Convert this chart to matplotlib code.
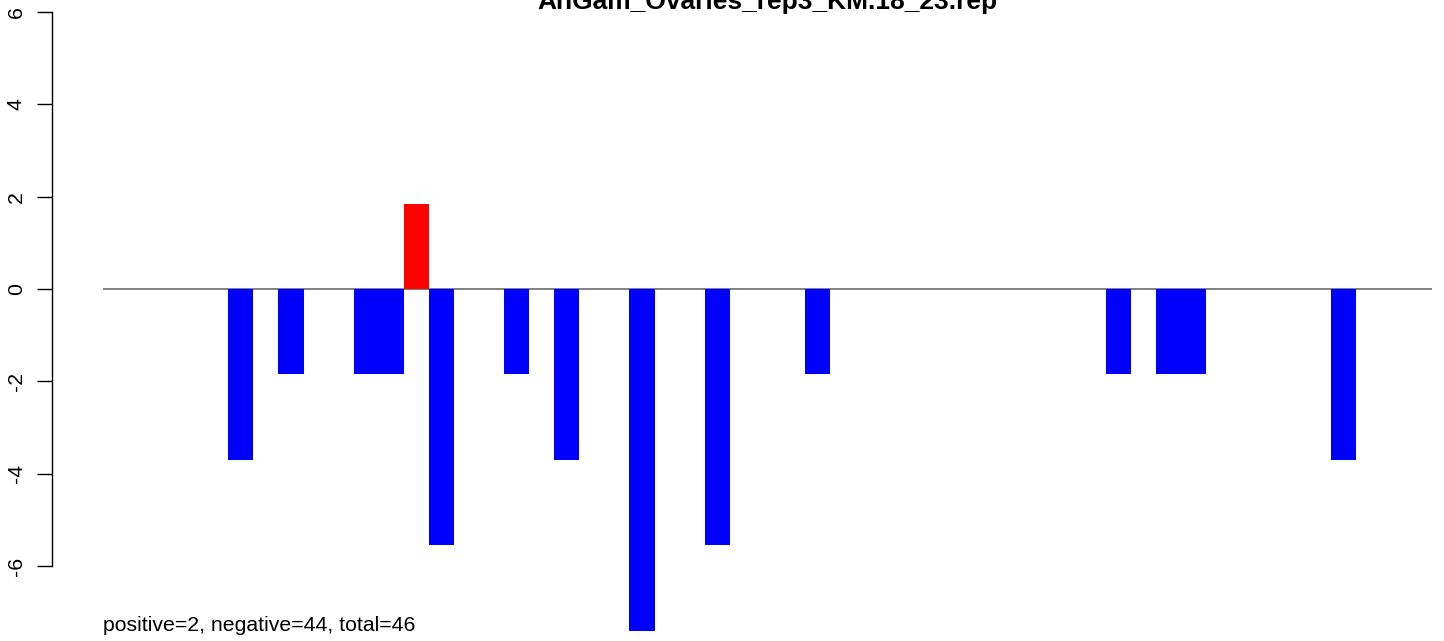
import matplotlib
matplotlib.use("Agg")
import matplotlib.pyplot as plt

plt.rcParams['font.family'] = ['Liberation Sans', 'DejaVu Sans']

title = "AnGam_Ovaries_rep3_KM.18_23.rep"
n_slots = 53
# slot index of each bar and its value
positions = [5, 7, 10, 11, 12, 13, 16, 18, 21, 24, 28, 40, 42, 43, 49]
values = [-3.7, -1.85, -1.85, -1.85, 1.85, -5.55, -1.85, -3.7, -7.4, -5.55,
          -1.85, -1.85, -1.85, -1.85, -3.7]
yticks = [-6, -4, -2, 0, 2, 4, 6]
summary = "positive=2, negative=44, total=46"

W, H = 1444, 641
fig = plt.figure(figsize=(W / 100, H / 100), dpi=100)
ax = fig.add_axes([0, 0, 1, 1])

# pixel mapping: x_px = 103 + 25.07 * x ; y_px(top) = 289 - 46.17 * y
ax.set_xlim(-103 / 25.07, (W - 103) / 25.07)
ax.set_ylim((289 - H) / 46.17, 289 / 46.17)

ax.hlines(0, 0, n_slots, color='#808080', lw=1.4, zorder=1)
colors = ['red' if v > 0 else 'blue' for v in values]
ax.bar(positions, values, width=1.0, align='edge', color=colors, zorder=2)

for s in ['top', 'right', 'bottom']:
    ax.spines[s].set_visible(False)
ax.spines['left'].set_position(('data', (52 - 103) / 25.07))
ax.spines['left'].set_bounds(-6, 6)
ax.spines['left'].set_linewidth(1.0)
ax.set_xticks([])
ax.set_yticks(yticks)
ax.set_yticklabels([str(t) for t in yticks], rotation=90, va='center')
ax.tick_params(axis='y', length=10.8, width=1.0, pad=8.0, labelsize=15.3)
ax.patch.set_alpha(0)

fig.text(767.5 / W, (H - 9) / H, title, ha='center', va='baseline',
         fontsize=19, fontweight='bold')
fig.text(103 / W, (H - 631) / H, summary, ha='left', va='baseline',
         fontsize=15.3)

fig.savefig('out.png', dpi=100)
